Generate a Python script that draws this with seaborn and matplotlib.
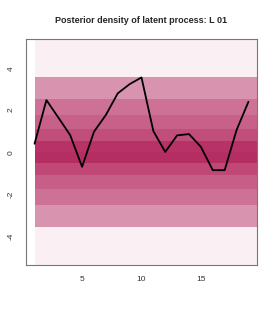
import numpy as np
import pandas as pd
import matplotlib
matplotlib.use('Agg')
import matplotlib.pyplot as plt
import seaborn as sns
from matplotlib.colors import LinearSegmentedColormap

# latent process (posterior mean) per time step
time = list(range(1, 20))
latent = [0.4, 2.48, 1.65, 0.81, -0.70, 0.97, 1.77, 2.8, 3.24, 3.56,
          1.0, 0.01, 0.8, 0.86, 0.25, -0.86, -0.86, 1.05, 2.4]

# density bands (row edges) and relative density level of each band
band_edges = [-5.38, -3.56, -2.53, -1.77, -1.1, -0.54, 0.0,
              0.54, 1.1, 1.77, 2.53, 3.56, 5.38]
band_level = [0.05, 0.45, 0.6, 0.72, 0.84, 0.97,
              0.95, 0.82, 0.7, 0.6, 0.45, 0.05]

sns.set_style('white')
plt.rcParams['font.family'] = ['Liberation Sans', 'DejaVu Sans']
plt.rcParams['axes.unicode_minus'] = False

fig = plt.figure(figsize=(2.75, 3.14), dpi=100)
ax = fig.add_axes([0.0945, 0.156, 0.84, 0.719])

cmap = LinearSegmentedColormap.from_list(
    'post', ['#fbf3f6', '#f5e4eb', '#dc9fb7', '#cd7296', '#c2517e', '#b3285f'])

x_edges = np.arange(1, 21)
dens = np.tile(np.array(band_level)[:, None], (1, len(time)))
ax.pcolormesh(x_edges, band_edges, dens, cmap=cmap, vmin=0, vmax=1, shading='flat')

df = pd.DataFrame({'t': time, 'L': latent})
sns.lineplot(data=df, x='t', y='L', ax=ax, color='black', lw=1.3)

ax.set_xlim(0.28, 19.72)
ax.set_ylim(-5.38, 5.38)
ax.set_xticks([5, 10, 15])
ax.set_yticks([-4, -2, 0, 2, 4])
ax.set_yticklabels(['-4', '-2', '0', '2', '4'], rotation=90, va='center')
ax.set_xlabel('')
ax.set_ylabel('')
ax.tick_params(axis='both', direction='out', length=4, width=0.6,
               color='#555555', labelsize=6, labelcolor='#333333', pad=4)
for s in ax.spines.values():
    s.set_color('#777777')
    s.set_linewidth(0.8)

ax.set_title('Posterior density of latent process: L 01', fontsize=6.5,
             fontweight='bold', pad=11.5)

fig.savefig('out.png', dpi=100)
